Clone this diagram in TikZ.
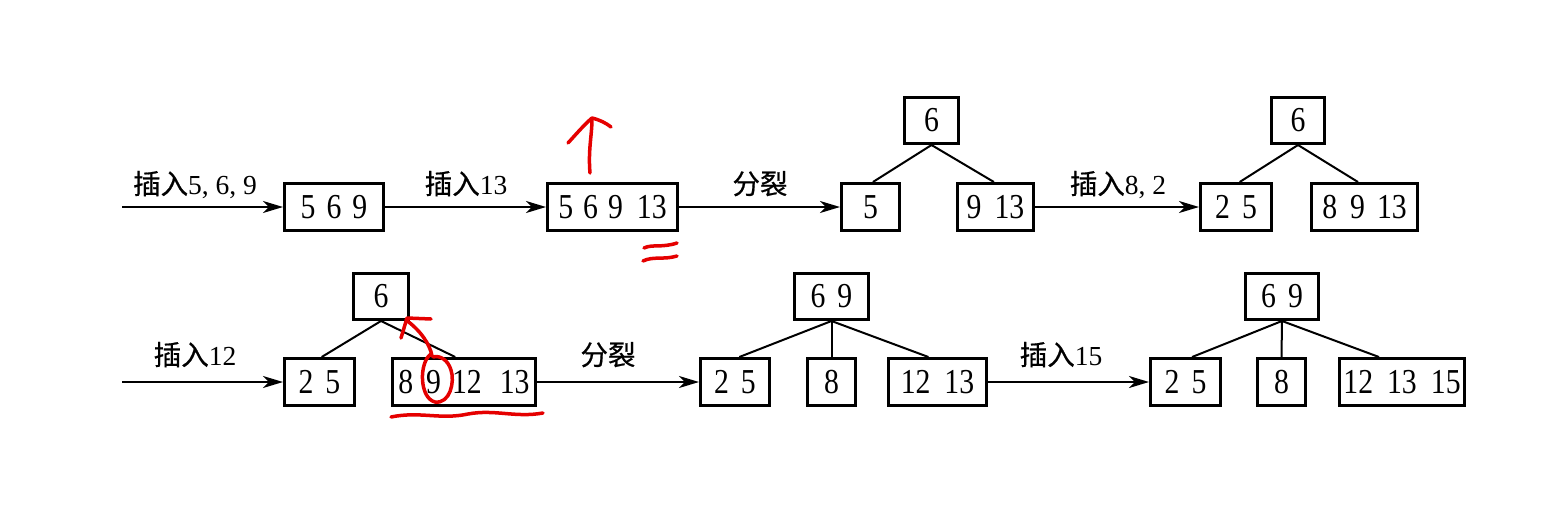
\documentclass[tikz,border=0pt]{standalone}
\usepackage{fontspec}
\setmainfont{Liberation Serif}
\newfontfamily\numfont{Liberation Serif}[FakeStretch=0.85]
\newfontfamily\cjk{Noto Sans CJK SC}[FakeBold=0.6]
\usetikzlibrary{arrows.meta,calc}
\newcommand{\gap}[1]{\hspace{#1pt}}
\newcommand{\bx}[6]{%
  \node[bx, minimum width={(#3)-(#2)-3}, minimum height={(#5)-(#4)-3}] (#1) at ({((#2)+(#3))/2},{((#4)+(#5))/2}) {#6};}
\begin{document}
\begin{tikzpicture}[x=1pt,y=-1pt,
  bx/.style={draw, line width=3pt, inner sep=0pt, font=\numfont\fontsize{35}{38}\selectfont},
  lbl/.style={anchor=base, inner sep=0pt, font=\fontsize{27.5}{30}\selectfont},
  conn/.style={line width=2pt, -{Stealth[length=20pt,width=12pt,inset=6pt]}},
  edge/.style={line width=2pt},
  pen/.style={draw=red!90!black, line width=3.5pt, line cap=round, line join=round}]
\useasboundingbox[fill=white] (0,0) rectangle (1558,512);
% row 1
\coordinate (s1) at (122,207);
\bx{B1}{283}{385}{182}{232}{5\gap{11}6\gap{11}9}
\bx{B2}{546}{679}{182}{232}{5\gap{10}6\gap{10}9\gap{14}13}
\bx{T1r}{903}{960}{96}{145}{6}
\bx{T1a}{840}{901}{182}{232}{5}
\bx{T1b}{956}{1035}{182}{232}{9\gap{13}13}
\bx{T2r}{1270}{1326}{96}{145}{6}
\bx{T2a}{1199}{1273}{182}{232}{2\gap{12}5}
\bx{T2b}{1310}{1419}{182}{232}{8\gap{13}9\gap{12}13}
% row 2
\coordinate (s2) at (122,382);
\bx{T3r}{352}{410}{272}{321}{6}
\bx{T3a}{283}{356}{357}{407}{2\gap{12}5}
\bx{T3b}{391}{537}{357}{407}{8\gap{13}9\gap{11}12\gap{18}13}
\bx{T4r}{793}{870}{272}{321}{6\gap{12}9}
\bx{T4a}{699}{771}{357}{407}{2\gap{12}5}
\bx{T4b}{806}{857}{357}{407}{8}
\bx{T4c}{887}{988}{357}{407}{12\gap{14}13}
\bx{T5r}{1244}{1320}{272}{321}{6\gap{12}9}
\bx{T5a}{1149}{1222}{357}{407}{2\gap{12}5}
\bx{T5b}{1256}{1307}{357}{407}{8}
\bx{T5c}{1338}{1466}{357}{407}{12\gap{14}13\gap{14}15}
% labels
\node[lbl] (L1) at (195,194) {{\cjk 插入}5, 6, 9};
\node[lbl] (L2) at (466,194) {{\cjk 插入}13};
\node[lbl] (L3) at (760,194) {\cjk 分裂};
\node[lbl] (L4) at (1118,194) {{\cjk 插入}8, 2};
\node[lbl] (L5) at (195,365) {{\cjk 插入}12};
\node[lbl] (L6) at (608,365) {\cjk 分裂};
\node[lbl] (L7) at (1061,365) {{\cjk 插入}15};
% connectors
\draw[conn] (s1) -- (B1.west);
\draw[conn] (B1.east) -- (B2.west);
\draw[conn] (B2.east) -- (T1a.west);
\draw[conn] (T1b.east) -- (T2a.west);
\draw[conn] (s2) -- (T3a.west);
\draw[conn] (T3b.east) -- (T4a.west);
\draw[conn] (T4c.east) -- (T5a.west);
% tree edges
\draw[edge] (T1r.south) -- ($(T1a.north west)!0.54!(T1a.north east)$);
\draw[edge] (T1r.south) -- ($(T1b.north west)!0.48!(T1b.north east)$);
\draw[edge] (T2r.south) -- ($(T2a.north west)!0.55!(T2a.north east)$);
\draw[edge] (T2r.south) -- ($(T2b.north west)!0.44!(T2b.north east)$);
\draw[edge] (T3r.south) -- ($(T3a.north west)!0.53!(T3a.north east)$);
\draw[edge] (T3r.south) -- ($(T3b.north west)!0.44!(T3b.north east)$);
\draw[edge] (T4r.south) -- ($(T4a.north west)!0.56!(T4a.north east)$);
\draw[edge] (T4r.south) -- (T4b.north);
\draw[edge] (T4r.south) -- ($(T4c.north west)!0.41!(T4c.north east)$);
\draw[edge] (T5r.south) -- ($(T5a.north west)!0.59!(T5a.north east)$);
\draw[edge] (T5r.south) -- (T5b.north);
\draw[edge] (T5r.south) -- ($(T5c.north west)!0.32!(T5c.north east)$);
% red hand annotations
\draw[pen] (590,173) .. controls (588,150) and (592,135) .. (592,119);
\draw[pen] (568,143) .. controls (578,132) and (585,124) .. (592,118) .. controls (600,120) and (606,123) .. (611,127);
\draw[pen] (644,248) .. controls (652,244) and (662,248) .. (677,243);
\draw[pen] (643,261) .. controls (653,256) and (664,260) .. (677,256);
\draw[pen] (431,354) .. controls (419,362) and (419,398) .. (435,402) .. controls (450,404) and (455,382) .. (451,370) .. controls (448,360) and (440,355) .. (433,357);
\draw[pen] (432,356) .. controls (430,344) and (420,330) .. (406,320);
\draw[pen] (401,338) -- (407,318) -- (431,319);
\draw[pen] (391,417) .. controls (420,411) and (440,420) .. (468,414) .. controls (495,409) and (515,418) .. (543,413);
\end{tikzpicture}
\end{document}
